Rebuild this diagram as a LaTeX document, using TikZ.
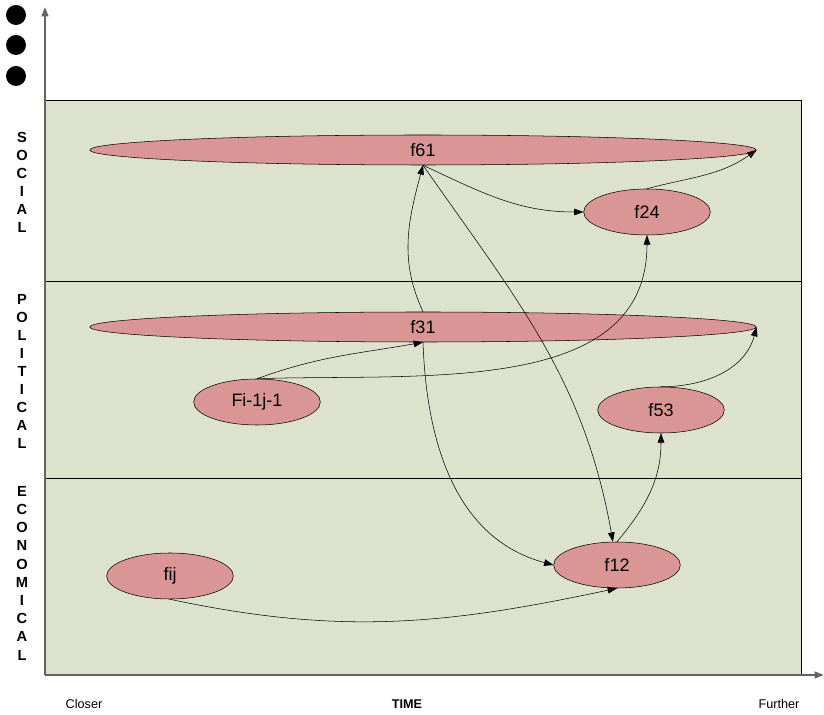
\documentclass[tikz,border=0pt]{standalone}
\usepackage{fontspec}
\setmainfont{Liberation Sans}
\usetikzlibrary{shapes.geometric,arrows.meta}
\definecolor{panel}{RGB}{221,226,204}
\definecolor{factorred}{RGB}{217,150,148}
\definecolor{axisgray}{RGB}{100,100,100}

\begin{document}
\begin{tikzpicture}[x=0.75pt,y=0.75pt,>={Triangle[length=7pt,width=5pt]}]
	\tikzstyle{factor} = [ellipse,draw,fill=factorred,inner sep=0pt,minimum width=95pt,minimum height=34.5pt,font=\fontsize{13.5}{16}\selectfont]
	\tikzstyle{wide} = [factor,minimum width=500pt,minimum height=22.5pt]
	\tikzstyle{letter} = [inner sep=0pt,font=\fontsize{11}{12}\selectfont\bfseries]
	\tikzstyle{tick} = [inner sep=0pt,font=\fontsize{9.5}{11}\selectfont]
	\tikzstyle{axisline} = [->,draw=axisgray,line width=1.5pt]
	
	\useasboundingbox (0,0) rectangle (824,714);
	
	% three bands
	\draw[fill=panel] (45,40) rectangle (801,614);
	\draw (45,433) -- (801,433);
	\draw (45,236) -- (801,236);
	
	% axes
	\coordinate (o) at (45,39);
	\coordinate (ytop) at (45,707);
	\coordinate (xend) at (824,39);
	\draw[axisline] (o) -- (ytop);
	\draw[axisline] (o) -- (xend);
	
	\foreach \y in {699,669,638}{
		\fill (16,\y) circle (10);
	};
	
	\foreach \c [count=\i] in {S,O,C,I,A,L}{
		\node[letter] (s-\i) at (22,595-18*\i) {\c};
	};
	\foreach \c [count=\i] in {P,O,L,I,T,I,C,A,L}{
		\node[letter] (p-\i) at (22,433-18*\i) {\c};
	};
	\foreach \c [count=\i] in {E,C,O,N,O,M,I,C,A,L}{
		\node[letter] (e-\i) at (22,241-18.2*\i) {\c};
	};
	
	\node[tick] (closer) at (84,10) {Closer};
	\node[tick,font=\fontsize{9.5}{11}\selectfont\bfseries] (time) at (407,10) {TIME};
	\node[tick] (further) at (779,10) {Further};
	
	% factors
	\node[wide] (f61) at (423,564) {f61};
	\node[wide] (f31) at (423,387) {f31};
	\node[factor] (f24) at (647,502) {f24};
	\node[factor] (fi1j1) at (257,312) {Fi-1j-1};
	\node[factor] (f53) at (661,304) {f53};
	\node[factor] (f12) at (617,149) {f12};
	\node[factor] (fij) at (170,138) {fij};
	
	\path[->] (f61.south) edge[out=-25,in=180] (f24.west)
	(f24.north) edge[out=15,in=-145] (f61.east)
	(f31.north) edge[out=115,in=-105] (f61.south)
	(f61.south) edge[out=-55,in=100] (f12.100)
	(fi1j1.north) edge[out=20,in=190] (f31.south)
	(fi1j1.north) edge[out=2,in=-90] (f24.south)
	(f31.south) edge[out=-88,in=165] (f12.west)
	(fij.south) edge[out=-12,in=192] (f12.south)
	(f12.north) edge[out=50,in=-90] (f53.south)
	(f53.north) edge[out=0,in=-105] (f31.east);
\end{tikzpicture}
\end{document}
